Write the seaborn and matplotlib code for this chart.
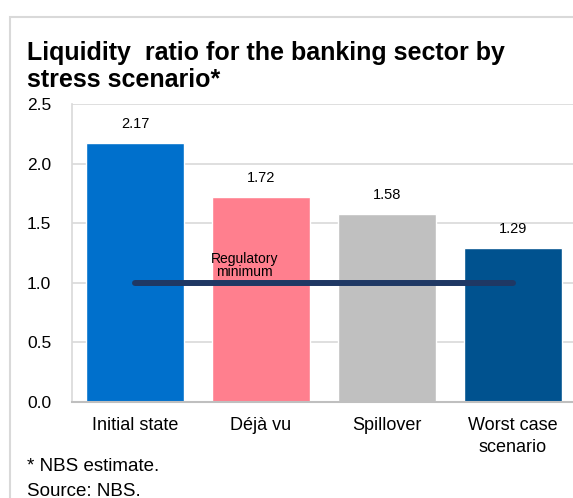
import matplotlib
matplotlib.use("Agg")
import matplotlib.pyplot as plt
import seaborn as sns
import pandas as pd
from matplotlib.patches import Rectangle

categories = ["Initial state", "Déjà vu", "Spillover", "Worst case\nscenario"]
values = [2.17, 1.72, 1.58, 1.29]
bar_colors = ["#0070CC", "#FF7F8E", "#C0C0C0", "#00528F"]
regulatory_min = 1.0
yticks = [0.0, 0.5, 1.0, 1.5, 2.0, 2.5]

sns.set_theme(style="white")
plt.rcParams['font.family'] = ['Liberation Sans', 'DejaVu Sans']

df = pd.DataFrame({"cat": categories, "val": values})

fig = plt.figure(figsize=(5.73, 4.98), dpi=100)
ax = fig.add_axes([72/573, (498-402)/498, 1 - 72/573 + 0.005, (402-104)/498])

sns.barplot(data=df, x="cat", y="val", hue="cat", palette=bar_colors,
            width=0.78, legend=False, ax=ax, saturation=1)

ax.set_ylim(0, 2.5)
ax.set_xlim(-0.5, 3.5)
ax.set_yticks(yticks)
ax.set_yticklabels([f"{t:.1f}" for t in yticks])
ax.set_xlabel("")
ax.set_ylabel("")
ax.set_axisbelow(True)
ax.yaxis.grid(True, color="#D9D9D9", linewidth=1.2)
ax.xaxis.grid(False)
for s in ["top", "right"]:
    ax.spines[s].set_visible(False)
ax.spines["left"].set_color("#D9D9D9")
ax.spines["left"].set_linewidth(1.2)
ax.spines["bottom"].set_color("#BFBFBF")
ax.spines["bottom"].set_linewidth(1.5)
ax.tick_params(axis="y", length=0, pad=15, labelsize=12.5, labelcolor="#000000")
ax.tick_params(axis="x", length=0, pad=11, labelsize=13, labelcolor="#000000")
for lbl in ax.get_xticklabels():
    lbl.set_linespacing(1.35)

for i, v in enumerate(values):
    ax.text(i, v + 0.1, f"{v:.2f}", ha="center", va="bottom", fontsize=10.5, color="#000000")

# regulatory minimum line
ax.plot([0, len(categories) - 1], [regulatory_min, regulatory_min], color="#1F3864",
        linewidth=4.3, solid_capstyle="round", zorder=5)
ax.text(0.87, regulatory_min + 0.03, "Regulatory\nminimum", ha="center", va="bottom",
        fontsize=10, color="#000000", linespacing=0.95, zorder=6)

# title
fig.text(27/573, 1 - 41/498, "Liquidity  ratio for the banking sector by\nstress scenario*",
         ha="left", va="top", fontsize=18, fontweight="bold", color="#000000",
         linespacing=1.14)

# footnotes
fig.text(27/573, 1 - 466/498, "* NBS estimate.", ha="left", va="center", fontsize=13.5, color="#000000")
fig.text(27/573, 1 - 491/498, "Source: NBS.", ha="left", va="center", fontsize=13.5, color="#000000")

# outer frame
fig.patches.append(Rectangle((10/573, -0.1), 1.2, 1 - 17/498 + 0.1, transform=fig.transFigure,
                             fill=False, edgecolor="#D9D9D9", linewidth=1.5, zorder=0))

fig.savefig("out.png", dpi=100)
